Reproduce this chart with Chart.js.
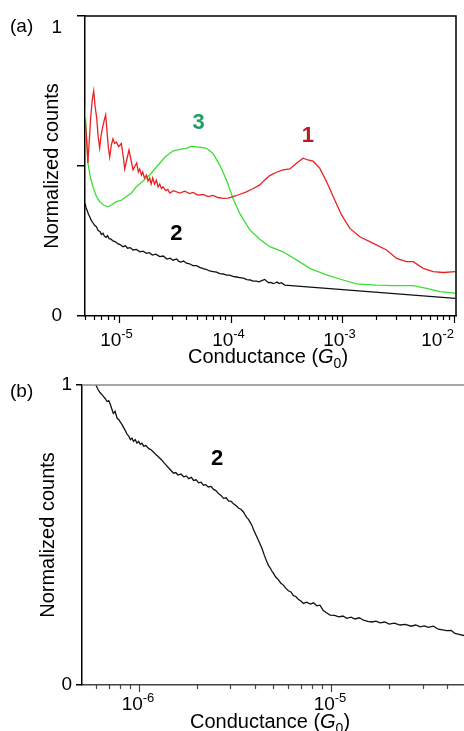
<!DOCTYPE html>
<html>
<head>
<meta charset="utf-8">
<title>Normalized conductance histograms</title>
<script src="https://cdn.jsdelivr.net/npm/chart.js@4.4.1/dist/chart.umd.min.js"></script>
<style>
  body { margin: 0; background: #fff; }
  canvas { position: absolute; left: 0; }
  #chartA { top: 0; }
  #chartB { top: 370px; }
</style>
</head>
<body>
<canvas id="chartA" width="464" height="370"></canvas>
<canvas id="chartB" width="464" height="361"></canvas>
<script>
// ---- values (conductance in G0, counts normalised to 1) ----

// panel (a), curve 1 (red)
const curve1G = [5.0e-6, 5.15e-6, 5.31e-6, 5.45e-6, 5.62e-6, 5.8e-6, 5.98e-6, 6.15e-6, 6.36e-6, 6.55e-6,
  6.76e-6, 6.95e-6, 7.19e-6, 7.4e-6, 7.65e-6, 7.85e-6, 8.1e-6, 8.31e-6, 8.6e-6, 8.89e-6,
  9.2e-6, 9.54e-6, 1.0e-5, 1.057e-5, 1.1e-5, 1.132e-5, 1.18e-5, 1.236e-5, 1.29e-5, 1.343e-5,
  1.4e-5, 1.449e-5, 1.5e-5, 1.541e-5, 1.6e-5, 1.64e-5, 1.7e-5, 1.771e-5, 1.83e-5, 1.893e-5,
  1.95e-5, 2.015e-5, 2.09e-5, 2.174e-5, 2.25e-5, 2.328e-5, 2.41e-5, 2.49e-5, 2.63e-5, 2.75e-5,
  2.86e-5, 3.1e-5, 3.51e-5, 3.9e-5, 4.3e-5, 4.62e-5, 5.1e-5, 5.68e-5, 6.3e-5, 6.97e-5,
  7.7e-5, 8.57e-5, 9.5e-5, 1.052e-4, 1.2e-4, 1.386e-4, 1.6e-4, 1.823e-4, 2.0e-4, 2.24e-4,
  2.6e-4, 2.95e-4, 3.39e-4, 3.88e-4, 4.45e-4, 4.91e-4, 5.47e-4, 6.28e-4, 7.21e-4, 8.26e-4,
  9.82e-4, 1.164e-3, 1.432e-3, 1.884e-3, 2.48e-3, 3.05e-3, 3.74e-3, 4.29e-3, 5.27e-3, 6.47e-3,
  7.96e-3, 1.02e-2];
const curve1Counts = [0.66, 0.60, 0.51, 0.58, 0.66, 0.72, 0.75, 0.70, 0.66, 0.60,
  0.56, 0.60, 0.63, 0.65, 0.67, 0.62, 0.56, 0.53, 0.57, 0.59,
  0.575, 0.58, 0.565, 0.575, 0.53, 0.49, 0.52, 0.553, 0.52, 0.487,
  0.50, 0.51, 0.48, 0.49, 0.47, 0.48, 0.46, 0.47, 0.45, 0.46,
  0.44, 0.46, 0.44, 0.453, 0.43, 0.44, 0.425, 0.431, 0.418, 0.422,
  0.41, 0.418, 0.41, 0.416, 0.408, 0.412, 0.403, 0.405, 0.398, 0.402,
  0.395, 0.392, 0.393, 0.398, 0.405, 0.414, 0.425, 0.437, 0.452, 0.468,
  0.48, 0.487, 0.49, 0.509, 0.526, 0.52, 0.516, 0.492, 0.448, 0.398,
  0.337, 0.292, 0.264, 0.242, 0.22, 0.192, 0.181, 0.181, 0.159, 0.148,
  0.145, 0.148];

// panel (a), curve 3 (green)
const curve3G = [5.0e-6, 5.15e-6, 5.31e-6, 5.6e-6, 5.89e-6, 6.3e-6, 6.76e-6, 7.3e-6, 8.02e-6, 8.6e-6,
  9.54e-6, 1.05e-5, 1.172e-5, 1.3e-5, 1.439e-5, 1.65e-5, 1.893e-5, 2.1e-5, 2.328e-5, 2.6e-5,
  2.86e-5, 3.05e-5, 3.28e-5, 3.6e-5, 4.03e-5, 4.5e-5, 4.96e-5, 5.5e-5, 6.09e-5, 6.97e-5,
  8.01e-5, 9.19e-5, 1.052e-4, 1.208e-4, 1.485e-4, 1.823e-4, 2.24e-4, 2.95e-4, 3.88e-4, 5.11e-4,
  7.21e-4, 1.014e-3, 1.335e-3, 2.02e-3, 2.84e-3, 4.29e-3, 5.65e-3, 7.43e-3, 1.02e-2];
const curve3Counts = [0.70, 0.60, 0.51, 0.46, 0.431, 0.40, 0.381, 0.37, 0.364, 0.37,
  0.381, 0.385, 0.398, 0.41, 0.431, 0.45, 0.47, 0.49, 0.509, 0.53,
  0.542, 0.55, 0.553, 0.556, 0.559, 0.566, 0.564, 0.562, 0.559, 0.542,
  0.503, 0.453, 0.392, 0.342, 0.287, 0.256, 0.231, 0.214, 0.187, 0.159,
  0.137, 0.12, 0.107, 0.103, 0.101, 0.101, 0.092, 0.081, 0.076];

// panel (a), curve 2 (black)
const curve2aG = [5.0e-6, 5.12e-6, 5.25e-6, 5.38e-6, 5.51e-6, 5.7e-6, 5.9e-6, 6.1e-6, 6.32e-6, 6.55e-6,
  6.8e-6, 7.0e-6, 7.24e-6, 7.45e-6, 7.7e-6, 7.95e-6, 8.2e-6, 8.55e-6, 8.89e-6, 9.3e-6,
  9.8e-6, 1.03e-5, 1.092e-5, 1.15e-5, 1.2e-5, 1.27e-5, 1.343e-5, 1.44e-5, 1.55e-5, 1.65e-5,
  1.771e-5, 1.88e-5, 2.0e-5, 2.15e-5, 2.328e-5, 2.5e-5, 2.7e-5, 2.88e-5, 3.06e-5, 3.3e-5,
  3.45e-5, 3.6e-5, 3.8e-5, 4.03e-5, 4.3e-5, 4.6e-5, 4.95e-5, 5.3e-5, 5.7e-5, 6.1e-5,
  6.5e-5, 6.97e-5, 7.5e-5, 8.0e-5, 8.6e-5, 9.19e-5, 9.8e-5, 1.05e-4, 1.13e-4, 1.208e-4,
  1.3e-4, 1.4e-4, 1.5e-4, 1.588e-4, 1.7e-4, 1.8e-4, 1.9e-4, 2.02e-4, 2.1e-4, 2.2e-4,
  2.3e-4, 2.4e-4, 2.5e-4, 2.6e-4, 2.72e-4, 2.85e-4, 3.05e-4, 1.02e-2];
const curve2aCounts = [0.376, 0.36, 0.35, 0.338, 0.331, 0.318, 0.31, 0.302, 0.298, 0.285,
  0.282, 0.272, 0.276, 0.266, 0.262, 0.268, 0.258, 0.256, 0.25, 0.248,
  0.241, 0.238, 0.231, 0.234, 0.226, 0.228, 0.22, 0.222, 0.214, 0.216,
  0.209, 0.211, 0.203, 0.206, 0.198, 0.2, 0.19, 0.193, 0.186, 0.19,
  0.182, 0.18, 0.183, 0.176, 0.174, 0.168, 0.168, 0.162, 0.158, 0.155,
  0.15, 0.148, 0.146, 0.141, 0.14, 0.136, 0.136, 0.132, 0.13, 0.128,
  0.126, 0.121, 0.12, 0.116, 0.116, 0.114, 0.118, 0.122, 0.116, 0.111,
  0.112, 0.108, 0.11, 0.113, 0.108, 0.111, 0.103, 0.059];

// panel (b), curve 2 (black)
const curve2bG = [6.0e-7, 6.15e-7, 6.3e-7, 6.45e-7, 6.58e-7, 6.7e-7, 6.85e-7, 7.0e-7, 7.13e-7, 7.26e-7,
  7.39e-7, 7.55e-7, 7.73e-7, 7.9e-7, 8.04e-7, 8.2e-7, 8.36e-7, 8.53e-7, 8.7e-7, 8.88e-7,
  9.06e-7, 9.23e-7, 9.4e-7, 9.6e-7, 9.81e-7, 1.0e-6, 1.02e-6, 1.04e-6, 1.062e-6, 1.09e-6,
  1.13e-6, 1.16e-6, 1.197e-6, 1.23e-6, 1.27e-6, 1.31e-6, 1.349e-6, 1.39e-6, 1.43e-6, 1.47e-6,
  1.52e-6, 1.56e-6, 1.6e-6, 1.66e-6, 1.713e-6, 1.77e-6, 1.82e-6, 1.88e-6, 1.93e-6, 1.99e-6,
  2.05e-6, 2.11e-6, 2.17e-6, 2.23e-6, 2.3e-6, 2.38e-6, 2.45e-6, 2.52e-6, 2.6e-6, 2.68e-6,
  2.76e-6, 2.85e-6, 2.93e-6, 3.02e-6, 3.11e-6, 3.2e-6, 3.3e-6, 3.4e-6, 3.51e-6, 3.58e-6,
  3.65e-6, 3.72e-6, 3.8e-6, 3.88e-6, 3.95e-6, 4.03e-6, 4.11e-6, 4.24e-6, 4.37e-6, 4.5e-6,
  4.64e-6, 4.73e-6, 4.83e-6, 4.92e-6, 5.02e-6, 5.15e-6, 5.3e-6, 5.47e-6, 5.65e-6, 5.82e-6,
  6.0e-6, 6.18e-6, 6.37e-6, 6.55e-6, 6.75e-6, 6.96e-6, 7.18e-6, 7.45e-6, 7.8e-6, 8.1e-6,
  8.43e-6, 8.75e-6, 9.1e-6, 9.5e-6, 9.88e-6, 1.04e-5, 1.1e-5, 1.15e-5, 1.206e-5, 1.27e-5,
  1.33e-5, 1.4e-5, 1.472e-5, 1.55e-5, 1.63e-5, 1.71e-5, 1.796e-5, 1.9e-5, 2.0e-5, 2.13e-5,
  2.28e-5, 2.43e-5, 2.6e-5, 2.75e-5, 2.9e-5, 3.05e-5, 3.2e-5, 3.4e-5, 3.6e-5, 3.8e-5,
  3.98e-5, 4.2e-5, 4.4e-5, 4.67e-5, 4.9e-5];
const curve2bCounts = [1.0, 0.985, 0.975, 0.968, 0.961, 0.955, 0.945, 0.948, 0.935, 0.92,
  0.905, 0.912, 0.889, 0.884, 0.876, 0.868, 0.858, 0.848, 0.836, 0.83,
  0.818, 0.823, 0.812, 0.818, 0.806, 0.812, 0.802, 0.806, 0.796, 0.798,
  0.788, 0.784, 0.776, 0.768, 0.76, 0.752, 0.742, 0.733, 0.724, 0.716,
  0.706, 0.708, 0.70, 0.703, 0.694, 0.697, 0.688, 0.692, 0.682, 0.684,
  0.674, 0.676, 0.666, 0.668, 0.66, 0.662, 0.652, 0.648, 0.638, 0.632,
  0.622, 0.624, 0.614, 0.612, 0.604, 0.598, 0.59, 0.586, 0.576, 0.566,
  0.558, 0.552, 0.542, 0.532, 0.518, 0.506, 0.494, 0.475, 0.456, 0.432,
  0.41, 0.398, 0.39, 0.38, 0.372, 0.36, 0.352, 0.34, 0.333, 0.322,
  0.314, 0.31, 0.298, 0.295, 0.286, 0.28, 0.272, 0.276, 0.27, 0.274,
  0.264, 0.266, 0.248, 0.24, 0.233, 0.232, 0.227, 0.23, 0.222, 0.226,
  0.22, 0.224, 0.216, 0.212, 0.21, 0.213, 0.207, 0.21, 0.203, 0.206,
  0.2, 0.202, 0.196, 0.2, 0.194, 0.197, 0.192, 0.196, 0.186, 0.184,
  0.181, 0.182, 0.172, 0.168, 0.165];

// axis ticks
const yTicksA = [0, 0.5, 1];
const yTicksB = [0, 1];
const yLabelled = [0, 1];

const FONT = '"Liberation Sans", Arial, Helvetica, sans-serif';
Chart.defaults.font.family = FONT;
Chart.defaults.color = '#000';

function isDecade(v) {
  const l = Math.log10(v);
  return Math.abs(l - Math.round(l)) < 1e-9;
}
// 1..9 x 10^n ticks between min and max
function logTicks(min, max) {
  const out = [];
  for (let e = Math.floor(Math.log10(min)); e <= Math.ceil(Math.log10(max)); e++) {
    for (let m = 1; m <= 9; m++) {
      const v = m * Math.pow(10, e);
      if (v >= min * 0.999 && v <= max * 1.001) out.push(v);
    }
  }
  return out;
}
function pairs(xs, ys) {
  return xs.map((x, i) => ({ x: x, y: ys[i] }));
}

// extra drawing: frame, x tick marks + labels, panel letter, curve labels, x title
const decor = {
  id: 'decor',
  afterDraw(chart, args, o) {
    const { ctx, chartArea: a, scales: { x, y } } = chart;
    ctx.save();

    // top / right frame
    ctx.lineWidth = 1.5;
    ctx.strokeStyle = o.frameColor;
    ctx.beginPath();
    ctx.moveTo(a.left, a.top);
    ctx.lineTo(a.right, a.top);
    if (o.rightFrame) ctx.lineTo(a.right, a.bottom);
    ctx.stroke();

    // x tick marks (longer at decades) and 10^n labels
    x.ticks.forEach(t => {
      const px = Math.round(x.getPixelForValue(t.value)) + 0.5;
      const major = isDecade(t.value);
      ctx.strokeStyle = o.axisColor;
      ctx.lineWidth = 1.2;
      ctx.beginPath();
      ctx.moveTo(px, a.bottom);
      ctx.lineTo(px, a.bottom + (major ? 7 : 4));
      ctx.stroke();
      if (!major) return;

      const exp = String(Math.round(Math.log10(t.value)));
      ctx.font = '19px ' + FONT;
      const wb = ctx.measureText('10').width;
      ctx.font = '13px ' + FONT;
      const we = ctx.measureText(exp).width;
      let left = px + o.labelShift - (wb + we) / 2;
      if (left + wb + we > o.labelRight) left = o.labelRight - wb - we;
      ctx.fillStyle = '#000';
      ctx.textAlign = 'left';
      ctx.textBaseline = 'alphabetic';
      ctx.font = '19px ' + FONT;
      ctx.fillText('10', left, o.labelBaseline);
      ctx.font = '13px ' + FONT;
      ctx.fillText(exp, left + wb, o.labelBaseline - 8);
    });

    // panel letter
    ctx.fillStyle = '#000';
    ctx.font = '19px ' + FONT;
    ctx.textAlign = 'left';
    ctx.textBaseline = 'alphabetic';
    ctx.fillText(o.panel, 10, o.panelBaseline);

    // curve labels
    ctx.textAlign = 'center';
    ctx.textBaseline = 'middle';
    ctx.font = 'bold 22px ' + FONT;
    o.labels.forEach(l => {
      ctx.fillStyle = l.color;
      ctx.fillText(l.text, x.getPixelForValue(l.g), y.getPixelForValue(l.count));
    });

    // x axis title with italic G and subscript 0
    const parts = [
      { t: 'Conductance (', f: '20px ' + FONT, dy: 0 },
      { t: 'G', f: 'italic 20px ' + FONT, dy: 0 },
      { t: '0', f: '14px ' + FONT, dy: 5 },
      { t: ')', f: '20px ' + FONT, dy: 0 }
    ];
    let w = 0;
    parts.forEach(p => { ctx.font = p.f; p.w = ctx.measureText(p.t).width; w += p.w; });
    let cx = (a.left + a.right) / 2 + o.titleShift - w / 2;
    ctx.textAlign = 'left';
    ctx.textBaseline = 'alphabetic';
    ctx.fillStyle = '#000';
    parts.forEach(p => {
      ctx.font = p.f;
      ctx.fillText(p.t, cx, o.titleBaseline + p.dy);
      cx += p.w;
    });
    ctx.restore();
  }
};

function xScale(min, max, height, color) {
  return {
    type: 'logarithmic',
    min: min,
    max: max,
    afterBuildTicks: s => { s.ticks = logTicks(min, max).map(v => ({ value: v })); },
    afterFit: s => { s.height = height; s.paddingLeft = 0; s.paddingRight = 0; },
    grid: { display: false, drawTicks: false },
    border: { display: true, color: color, width: 1.5 },
    ticks: { display: false, autoSkip: false }
  };
}

function yScale(ticks, width, tickLen, pad, titlePad, dropTop) {
  return {
    min: 0,
    max: 1,
    afterBuildTicks: s => { s.ticks = ticks.map(v => ({ value: v })); },
    afterFit: s => { s.width = width; s.paddingTop = 0; s.paddingBottom = 0; },
    grid: { drawOnChartArea: false, drawTicks: true, tickLength: tickLen,
            color: '#000', tickColor: '#000', lineWidth: 1.5, tickWidth: 1.5 },
    border: { display: true, color: '#000', width: 1.5 },
    ticks: {
      padding: pad, color: '#000', font: { size: 19 },
      // in (a) the "1" sits just below its tick
      callback: v => !yLabelled.includes(v) ? '' : (dropTop && v === 1 ? ['', '1'] : String(v))
    },
    title: { display: true, text: 'Normalized counts', color: '#000',
             font: { size: 20 }, padding: { top: titlePad, bottom: 0 } }
  };
}

function line(data, color) {
  return { data: data, borderColor: color, borderWidth: 1.3, pointRadius: 0, tension: 0, fill: false };
}

new Chart(document.getElementById('chartA'), {
  type: 'line',
  data: {
    datasets: [
      line(pairs(curve1G, curve1Counts), 'rgb(232,34,34)'),
      line(pairs(curve3G, curve3Counts), 'rgb(60,222,50)'),
      line(pairs(curve2aG, curve2aCounts), '#111')
    ]
  },
  options: {
    responsive: false,
    animation: false,
    layout: { padding: { top: 16, right: 8, left: 0, bottom: 0 } },
    plugins: {
      legend: { display: false },
      tooltip: { enabled: false },
      decor: {
        panel: '(a)', panelBaseline: 31.5, frameColor: '#000', rightFrame: true, axisColor: '#000',
        labelShift: -3, labelRight: 454, labelBaseline: 346,
        titleShift: -2.5, titleBaseline: 362.5,
        labels: [
          { text: '3', g: 5.19e-5, count: 0.642, color: 'rgb(28,160,92)' },
          { text: '1', g: 4.9e-4, count: 0.60, color: 'rgb(185,25,35)' },
          { text: '2', g: 3.27e-5, count: 0.275, color: '#000' }
        ]
      }
    },
    scales: {
      x: xScale(5.0e-6, 1.035e-2, 54, '#000'),
      y: yScale(yTicksA, 85, 8, 15, 40, true)
    }
  },
  plugins: [decor]
});

new Chart(document.getElementById('chartB'), {
  type: 'line',
  data: {
    datasets: [
      line(pairs(curve2bG, curve2bCounts), '#111')
    ]
  },
  options: {
    responsive: false,
    animation: false,
    layout: { padding: { top: 15, right: 0, left: 0, bottom: 0 } },
    plugins: {
      legend: { display: false },
      tooltip: { enabled: false },
      decor: {
        panel: '(b)', panelBaseline: 27, frameColor: '#8a8a8a', rightFrame: false, axisColor: '#444',
        labelShift: -1.5, labelRight: 464, labelBaseline: 340,
        titleShift: -3, titleBaseline: 358,
        labels: [
          { text: '2', g: 2.56e-6, count: 0.752, color: '#000' }
        ]
      }
    },
    scales: {
      x: xScale(5.08e-7, 4.9e-5, 46, '#444'),
      y: yScale(yTicksB, 82, 6, 4, 36, false)
    }
  },
  plugins: [decor]
});
</script>
</body>
</html>
